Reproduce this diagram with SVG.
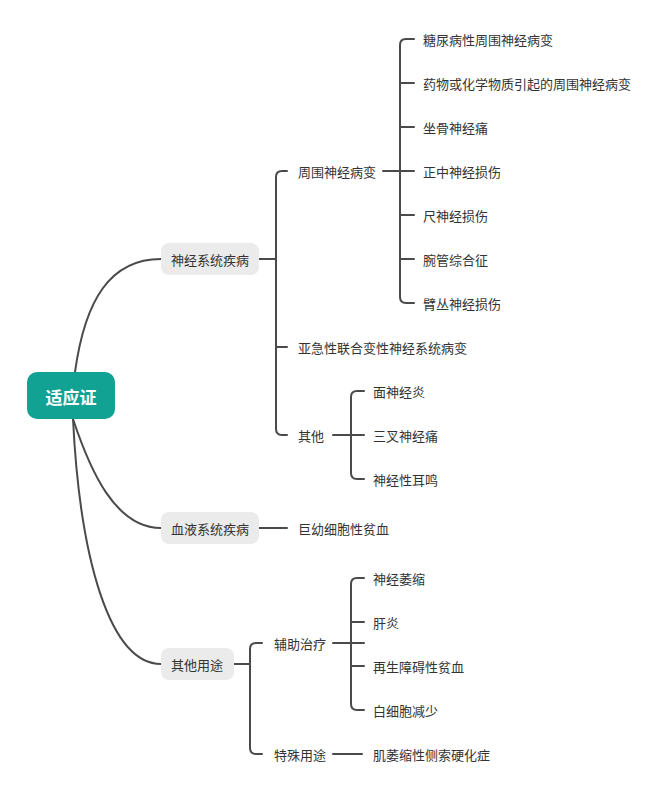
<svg xmlns="http://www.w3.org/2000/svg" width="660" height="792" viewBox="0 0 660 792">
<style>
.c{fill:none;stroke:#4a4a4a;stroke-width:2;stroke-linecap:round}
.t{font-family:"Noto Sans CJK SC","Liberation Sans",sans-serif;font-size:13px;fill:#333;dominant-baseline:central}
.p{fill:#ebebeb}
</style>
<rect width="660" height="792" fill="#fff"/>
<g id="connectors">
<path class="c" d="M75 372 C85 300 110 259 161 259"/>
<path class="c" d="M73 419 C90 470 115 528 161 528"/>
<path class="c" d="M73 419 C80 560 110 664 161 664"/>
<path class="c" d="M259 259 H276 M287 171 H282 Q276 171 276 177 V429 Q276 435 282 435 H287 M276 347 H287"/>
<path class="c" d="M383 171 H414 M414 39 H406 Q400 39 400 45 V297 Q400 303 406 303 H414 M400 83 H414 M400 127 H414 M400 215 H414 M400 259 H414"/>
<path class="c" d="M333 435 H364 M364 391 H357 Q351 391 351 397 V473 Q351 479 357 479 H364"/>
<path class="c" d="M259 528 H287"/>
<path class="c" d="M234 664 H250 M262 643 H256 Q250 643 250 649 V748 Q250 754 256 754 H262"/>
<path class="c" d="M333 643 H364 M364 578 H357 Q351 578 351 584 V704 Q351 710 357 710 H364 M351 622 H364 M351 666 H364"/>
<path class="c" d="M333 754 H362"/>
</g>
<g id="root"><rect x="27" y="372" width="88" height="47" rx="10" fill="#12a294"/><text x="71" y="396" text-anchor="middle" dominant-baseline="central" font-family="Noto Sans CJK SC,sans-serif" font-size="17" font-weight="bold" fill="#fff">适应证</text></g>
<g id="n1"><rect class="p" x="161" y="243" width="98" height="32" rx="8"/><text class="t" x="210" y="259" text-anchor="middle">神经系统疾病</text></g>
<g id="n2"><rect class="p" x="161" y="512" width="98" height="32" rx="8"/><text class="t" x="210" y="528" text-anchor="middle">血液系统疾病</text></g>
<g id="n3"><rect class="p" x="161" y="648" width="73" height="32" rx="8"/><text class="t" x="197" y="664" text-anchor="middle">其他用途</text></g>
<g id="n11"><text class="t" x="298" y="171">周围神经病变</text></g>
<g id="n12"><text class="t" x="298" y="347">亚急性联合变性神经系统病变</text></g>
<g id="n13"><text class="t" x="298" y="435">其他</text></g>
<g id="p1"><text class="t" x="423" y="39">糖尿病性周围神经病变</text></g>
<g id="p2"><text class="t" x="423" y="83">药物或化学物质引起的周围神经病变</text></g>
<g id="p3"><text class="t" x="423" y="127">坐骨神经痛</text></g>
<g id="p4"><text class="t" x="423" y="171">正中神经损伤</text></g>
<g id="p5"><text class="t" x="423" y="215">尺神经损伤</text></g>
<g id="p6"><text class="t" x="423" y="259">腕管综合征</text></g>
<g id="p7"><text class="t" x="423" y="303">臂丛神经损伤</text></g>
<g id="o1"><text class="t" x="373" y="391">面神经炎</text></g>
<g id="o2"><text class="t" x="373" y="435">三叉神经痛</text></g>
<g id="o3"><text class="t" x="373" y="479">神经性耳鸣</text></g>
<g id="b1"><text class="t" x="298" y="528">巨幼细胞性贫血</text></g>
<g id="u1"><text class="t" x="274" y="643">辅助治疗</text></g>
<g id="u2"><text class="t" x="274" y="754">特殊用途</text></g>
<g id="a1"><text class="t" x="373" y="578">神经萎缩</text></g>
<g id="a2"><text class="t" x="373" y="622">肝炎</text></g>
<g id="a3"><text class="t" x="373" y="666">再生障碍性贫血</text></g>
<g id="a4"><text class="t" x="373" y="710">白细胞减少</text></g>
<g id="s1"><text class="t" x="373" y="754">肌萎缩性侧索硬化症</text></g>
</svg>
